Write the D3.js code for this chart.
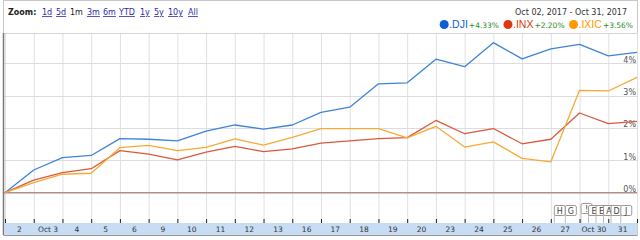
<!DOCTYPE html>
<html>
<head>
<meta charset="utf-8">
<script src="https://cdn.jsdelivr.net/npm/d3@7"></script>
<style>
  body { margin: 0; background: #fff; }
  svg { display: block; }
</style>
</head>
<body>
<svg></svg>
<script>
// trading days, one band each
let days = ["2", "Oct 3", "4", "5", "6", "9", "10", "11", "12", "13", "16", "17", "18", "19", "20", "23", "24", "25", "26", "27", "Oct 30", "31"];

// % change since previous close (first point is the baseline)
let dji  = [0, 0.70, 1.08, 1.15, 1.67, 1.65, 1.60, 1.90, 2.09, 1.96, 2.09, 2.48, 2.64, 3.36, 3.39, 4.12, 3.89, 4.63, 4.13, 4.44, 4.58, 4.22, 4.33];
let inx  = [0, 0.39, 0.62, 0.74, 1.30, 1.19, 1.01, 1.25, 1.43, 1.27, 1.35, 1.53, 1.60, 1.67, 1.70, 2.23, 1.82, 1.98, 1.51, 1.65, 2.46, 2.13, 2.20];
let ixic = [0, 0.31, 0.57, 0.60, 1.39, 1.46, 1.30, 1.40, 1.66, 1.47, 1.71, 1.98, 1.98, 1.98, 1.69, 2.05, 1.41, 1.57, 1.06, 0.95, 3.16, 3.14, 3.56];

let seriesNames = [".DJI", ".INX", ".IXIC"];
let seriesChange = ["+4.33%", "+2.20%", "+3.56%"];
let yTicks = [0, 1, 2, 3, 4];
let zoomLinks = ["1d", "5d", "1m", "3m", "6m", "YTD", "1y", "5y", "10y", "All"];
let flagLetters = ["H", "G", "!", "E", "E", "A", "D", "J"];
let flagDays = [19, 19, 20, 20, 20, 20, 20, 21];

let width = 640;
let height = 240;
let left = 5;
let right = 637;
let plotTop = 33;
let stripTop = 223;

let lineColors = ["#3f83d6", "#d85a3c", "#f8a935"];
let dotColors = ["#0c5fd6", "#dc3912", "#ff9900"];

let svg = d3.select("svg").attr("width", width).attr("height", height);

let xScale = d3.scaleLinear().domain([0, days.length]).range([left, right]);
let yScale = d3.scaleLinear().domain([0, 5]).range([192.7, 30.7]);
let bw = xScale(1) - xScale(0);

// frame
svg.append("rect").attr("x", 3.5).attr("y", 0.5).attr("width", 634).attr("height", 235)
    .attr("fill", "none").attr("stroke", "#c8c8c8");

// header
let header = svg.append("text").attr("x", 8).attr("y", 15)
    .style("font-family", "DejaVu Sans").style("font-size", "8px");
header.append("tspan").text("Zoom:").style("font-weight", "bold").attr("fill", "#222");

let linkX = [42, 56, 70, 87, 103, 119, 140, 154, 168, 188];
svg.selectAll(".zl").data(zoomLinks).enter().append("text")
    .attr("class", "zl")
    .attr("x", (d, i) => linkX[i])
    .attr("y", 15)
    .style("font-family", "DejaVu Sans").style("font-size", "8px")
    .attr("fill", (d) => d == "1m" ? "#222" : "#2b2bb0")
    .style("text-decoration", (d) => d == "1m" ? "none" : "underline")
    .text((d) => d);

svg.append("text").attr("x", 627).attr("y", 15).attr("text-anchor", "end")
    .style("font-family", "DejaVu Sans").style("font-size", "8px").attr("fill", "#333")
    .text("Oct 02, 2017  -  Oct 31, 2017");

// legend, laid out right to left
let legend = svg.append("g");
let lx = 633;
for (let i = seriesNames.length - 1; i >= 0; i--) {
    let pct = legend.append("text").attr("x", lx).attr("y", 28).attr("text-anchor", "end")
        .style("font-family", "DejaVu Sans").style("font-size", "7.5px").attr("fill", "#2a8a2a")
        .text(seriesChange[i]);
    lx -= pct.node().getComputedTextLength() + 1;
    let nm = legend.append("text").attr("x", lx).attr("y", 28).attr("text-anchor", "end")
        .style("font-family", "Liberation Sans").style("font-size", "10.5px").attr("fill", dotColors[i])
        .text(seriesNames[i]);
    lx -= nm.node().getComputedTextLength() + 5;
    legend.append("circle").attr("cx", lx).attr("cy", 24.5).attr("r", 4.5).attr("fill", dotColors[i]);
    lx -= 9;
}

// grid
let grid = svg.append("g");
grid.selectAll(".vg").data(d3.range(days.length + 1)).enter().append("line")
    .attr("x1", (d) => xScale(d) + 0.5).attr("x2", (d) => xScale(d) + 0.5)
    .attr("y1", plotTop).attr("y2", stripTop)
    .attr("stroke", "#e0e0e4");
grid.selectAll(".hg").data(yTicks.slice(1)).enter().append("line")
    .attr("x1", 4).attr("x2", right)
    .attr("y1", (d) => Math.round(yScale(d)) + 0.5).attr("y2", (d) => Math.round(yScale(d)) + 0.5)
    .attr("stroke", "#dcdce2");
grid.append("line").attr("x1", 4).attr("x2", right).attr("y1", plotTop + 0.5).attr("y2", plotTop + 0.5)
    .attr("stroke", "#d4d4d4");
grid.append("line").attr("x1", 3.5).attr("x2", 3.5).attr("y1", plotTop).attr("y2", 235)
    .attr("stroke", "#777").attr("stroke-width", 1.5);

// zero line
svg.append("line").attr("x1", 4).attr("x2", right)
    .attr("y1", yScale(0)).attr("y2", yScale(0))
    .attr("stroke", "#b08d86").attr("stroke-width", 1.6);

// right axis labels
svg.selectAll(".yl").data(yTicks).enter().append("text")
    .attr("x", 636).attr("y", (d) => yScale(d) - 0.5)
    .attr("text-anchor", "end")
    .style("font-family", "DejaVu Sans").style("font-size", "8px").attr("fill", "#555")
    .text((d) => d + "%");

// lines
let line = d3.line().x((d, i) => xScale(i)).y((d) => yScale(d));
[dji, inx, ixic].forEach((s, k) => {
    svg.append("path").datum(s).attr("d", line)
        .attr("fill", "none").attr("stroke", lineColors[k]).attr("stroke-width", 1.3)
        .attr("stroke-linejoin", "round");
});

// event flags
let flagG = svg.append("g");
let counts = {};
flagDays.forEach((d) => counts[d] = (counts[d] || 0) + 1);
let seen = {};
flagLetters.forEach((l, i) => {
    let d = flagDays[i];
    let k = seen[d] || 0;
    seen[d] = k + 1;
    let n = counts[d];
    let fx = n == 1 ? xScale(d) + 12 : xScale(d) + (n > 2 ? 1 + k * 7.5 : 3 + k * 11);
    let fy = l == "!" ? 203 : 205;
    flagG.append("line").attr("x1", fx + 0.5).attr("x2", fx + 0.5).attr("y1", fy + 10).attr("y2", stripTop)
        .attr("stroke", "#bbb");
    flagG.append("rect").attr("x", fx + 0.5).attr("y", fy + 0.5).attr("width", 11).attr("height", 10)
        .attr("rx", 1.5).attr("fill", "#fff").attr("stroke", "#999");
    flagG.append("text").attr("x", fx + 6).attr("y", fy + 8.5).attr("text-anchor", "middle")
        .style("font-family", "DejaVu Sans").style("font-size", "8px").attr("fill", "#444")
        .text(l);
});

// bottom strip with day labels
svg.append("rect").attr("x", 4).attr("y", stripTop).attr("width", right - 4).attr("height", 12)
    .attr("fill", "#c8dcf4");
svg.append("line").attr("x1", 4).attr("x2", right).attr("y1", stripTop + 12.5).attr("y2", stripTop + 12.5)
    .attr("stroke", "#999");

let xAxis = d3.axisBottom(xScale).tickValues(d3.range(days.length + 1)).tickSize(4).tickFormat("");
svg.append("g").attr("transform", "translate(0," + (stripTop - 4) + ")").call(xAxis)
    .call((g) => g.select(".domain").remove())
    .selectAll("line").attr("stroke", "#222");

svg.selectAll(".dl").data(days).enter().append("text")
    .attr("x", (d, i) => xScale(i) + bw / 2).attr("y", 232)
    .attr("text-anchor", "middle")
    .style("font-family", "DejaVu Sans").style("font-size", "7.5px").attr("fill", "#333")
    .text((d) => d);
</script>
</body>
</html>
